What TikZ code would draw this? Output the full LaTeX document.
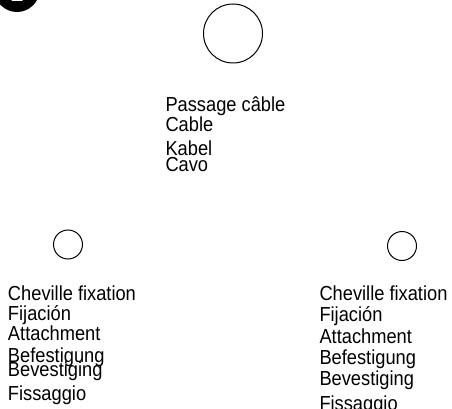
\documentclass[tikz,border=0pt]{standalone}
\usepackage{fontspec}
\setmainfont{Liberation Sans}[FakeStretch=0.9]
\begin{document}
\begin{tikzpicture}[x=1pt,y=-1pt,line width=1pt]
\tikzset{hole/.style={draw,circle,inner sep=0pt},
  legend/.style={anchor=base west,inner sep=0pt,font=\fontsize{20.3}{21}\selectfont}}
\useasboundingbox (0,0) rectangle (452,409);
\begin{scope}
\clip (0,0) rectangle (452,409);
% badge
\fill (17,-10.7) circle (22.7);
\node[anchor=base,inner sep=0pt,text=white,font=\bfseries\fontsize{26}{26}\selectfont] (num) at (17,2) {1};
% holes
\node[hole,minimum size=59pt] (cable) at (233,33.5) {};
\node[hole,minimum size=29pt] (fixl) at (68,244.5) {};
\node[hole,minimum size=29pt] (fixr) at (402,246) {};
% texts
\foreach \t/\y [count=\i] in {Passage câble/111.7,Cable/131.7,Kabel/155,Cavo/171.7}
  \node[legend] (cab-\i) at (165,\y) {\t};
\foreach \t/\y [count=\i] in {Cheville fixation/300.7,Fijación/320.7,Attachment/340.7,Befestigung/362,Bevestiging/376.7,Fissaggio/400}
  \node[legend] (left-\i) at (7.5,\y) {\t};
\foreach \t/\y [count=\i] in {Cheville fixation/300.7,Fijación/321.7,Attachment/343,Befestigung/364,Bevestiging/385,Fissaggio/410}
  \node[legend] (right-\i) at (319,\y) {\t};
\end{scope}
\end{tikzpicture}
\end{document}
